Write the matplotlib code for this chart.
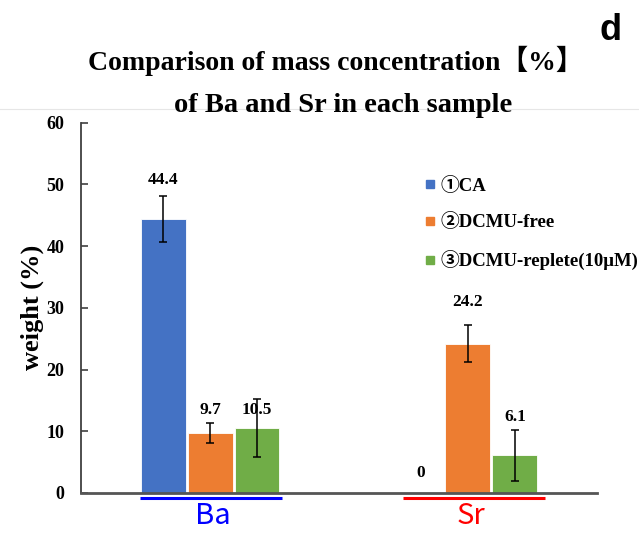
import numpy as np
import matplotlib
matplotlib.use('Agg')
import matplotlib.pyplot as plt
from matplotlib.lines import Line2D

elements = ['Ba', 'Sr']
samples = ['①CA', '②DCMU-free', '③DCMU-replete(10μM)']
weights = [
    [44.4, 0.0],   # CA
    [9.7, 24.2],   # DCMU-free
    [10.5, 6.1],   # DCMU-replete
]
errors = [
    [3.7, 0.0],
    [1.55, 3.0],
    [4.7, 4.1],
]
# heights where the value labels sit
label_y = [
    [50.7, 3.2],
    [13.4, 31.0],
    [13.4, 12.3],
]
bar_colors = ['#4472C4', '#ED7D31', '#70AD47']
element_colors = ['#0000FF', '#FF0000']
underline_span = [(-0.27, 0.28), (-0.25, 0.30)]

serif = ['Liberation Serif', 'Noto Sans CJK JP', 'DejaVu Serif']
cjk = ['Noto Sans CJK JP', 'DejaVu Sans']

fig = plt.figure(figsize=(6.39, 5.34), dpi=100)
ax = fig.add_axes([0.127, 0.077, 0.807, 0.693])

x = np.arange(len(elements))
width = 0.174
step = 0.182
for i in range(len(samples)):
    xs = x + (i - 1) * step
    ax.bar(xs, weights[i], width, color=bar_colors[i], edgecolor='white', linewidth=0.6,
           label=samples[i], zorder=2)
    for j in range(len(elements)):
        if errors[i][j] > 0:
            ax.errorbar(xs[j], weights[i][j], yerr=errors[i][j], fmt='none', ecolor='black',
                        elinewidth=1.1, capsize=3, capthick=1.1, zorder=3)
        ax.text(xs[j], label_y[i][j], f"{weights[i][j]:g}", ha='center', va='center',
                fontsize=12.5, fontweight='bold', family=serif)

# element labels with coloured underline
for j, el in enumerate(elements):
    lo, hi = underline_span[j]
    ax.plot([x[j] + lo, x[j] + hi], [-0.75, -0.75], color=element_colors[j], lw=2.2,
            clip_on=False, solid_capstyle='butt')
    ax.text(x[j] + 0.01, -3.7, el, ha='center', va='center', color=element_colors[j],
            fontsize=21, family=cjk)

ax.set_xlim(-0.5, 1.5)
ax.set_ylim(0, 60)
ax.set_yticks(range(0, 61, 10))
ax.set_xticks([])
for lbl in ax.get_yticklabels():
    lbl.set_fontfamily(serif)
    lbl.set_fontweight('bold')
    lbl.set_fontsize(13)
ax.tick_params(axis='y', direction='in', length=5, width=1.2, color='#404040', pad=12)
ax.spines['top'].set_visible(False)
ax.spines['right'].set_visible(False)
ax.spines['left'].set_color('#404040')
ax.spines['bottom'].set_color('#555555')
ax.spines['left'].set_linewidth(1.3)
ax.spines['bottom'].set_linewidth(2.0)
ax.set_ylabel('weight (%)', fontsize=19, fontweight='bold', family=serif, labelpad=2)

handles = [Line2D([0], [0], marker='s', color='none', markerfacecolor=c, markeredgecolor=c,
                  markersize=6) for c in bar_colors]
leg = ax.legend(handles, samples, loc='upper left', bbox_to_anchor=(0.633, 0.9), frameon=False,
                handlelength=0.6, handletextpad=0.25, labelspacing=1.0,
                prop={'family': serif, 'weight': 'bold', 'size': 13.5})

fig.add_artist(Line2D([0, 1], [1 - 109 / 534, 1 - 109 / 534], color='#e6e6e6', lw=0.8))
fig.text(336 / 639, 1 - 70 / 534, 'Comparison of mass concentration【%】', ha='center',
         va='baseline', fontsize=20, fontweight='bold', family=serif)
fig.text(343 / 639, 1 - 112 / 534, 'of Ba and Sr in each sample', ha='center',
         va='baseline', fontsize=20.5, fontweight='bold', family=serif)
fig.text(611 / 639, 1 - 30 / 534, 'd', ha='center', va='center', fontsize=26, fontweight='bold',
         family='Liberation Sans')

fig.savefig('out.png', dpi=100)
